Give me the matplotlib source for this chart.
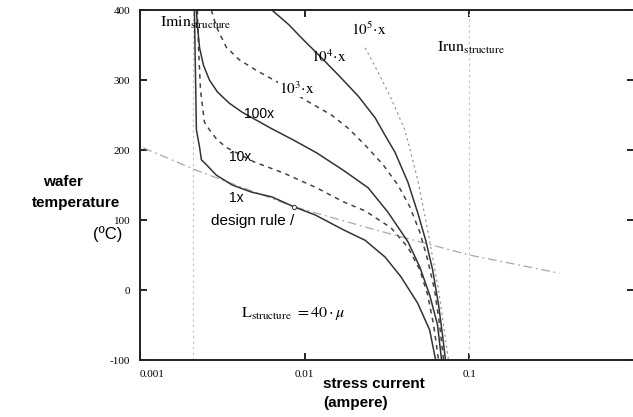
import numpy as np
import matplotlib
matplotlib.use('Agg')
import matplotlib.pyplot as plt

plt.rcParams['mathtext.fontset'] = 'stix'

# ---- data (x in ampere, y in deg C) ----
x_1 = [0.00214, 0.00217, 0.0022, 0.0023, 0.00236, 0.00253, 0.00291, 0.00363, 0.00473, 0.00632,
       0.00858, 0.01164, 0.01718, 0.0233, 0.0308, 0.0384, 0.0486, 0.0574, 0.0624]
y_1 = [400, 314, 229, 204, 186, 179, 164, 150, 140, 133, 119, 107, 86, 71, 47, 19, -19, -57, -100]

x_10 = [0.00223, 0.00227, 0.00233, 0.00246, 0.00264, 0.00295, 0.00339, 0.00493, 0.00747, 0.01181,
        0.01718, 0.02328, 0.03342, 0.04236, 0.0500, 0.05585, 0.0607, 0.0650]
y_10 = [400, 343, 286, 240, 229, 214, 203, 183, 167, 146, 126, 113, 89, 61, 29, -7, -50, -100]

x_100 = [0.0022, 0.00223, 0.0023, 0.00243, 0.00264, 0.00295, 0.00348, 0.00417, 0.00624, 0.00858,
         0.01181, 0.01718, 0.0243, 0.03207, 0.04236, 0.0500, 0.05741, 0.06412, 0.0678]
y_100 = [400, 379, 346, 321, 300, 283, 267, 254, 231, 214, 196, 171, 146, 111, 69, 33, -7, -50, -100]

x_1e3 = [0.00271, 0.00291, 0.00334, 0.0040, 0.00507, 0.00697, 0.01014, 0.01455, 0.01841, 0.02328,
         0.02992, 0.03684, 0.0435, 0.0500, 0.05585, 0.06152, 0.0660, 0.0697]
y_1e3 = [400, 376, 347, 329, 314, 296, 271, 250, 231, 207, 179, 150, 119, 83, 43, 0, -50, -100]

x_1e4 = [0.00632, 0.00801, 0.00986, 0.01214, 0.01603, 0.02115, 0.02679, 0.03077, 0.03532, 0.04236,
         0.04864, 0.05433, 0.05984, 0.0650, 0.06871, 0.07161]
y_1e4 = [400, 379, 357, 336, 307, 277, 246, 221, 197, 154, 110, 71, 29, -21, -64, -100]

x_1e5 = [0.02328, 0.02793, 0.03342, 0.04055, 0.04416, 0.04864, 0.05433, 0.05984, 0.0650, 0.0697, 0.0747]
y_1e5 = [346, 311, 274, 229, 196, 157, 100, 47, 0, -50, -100]

x_rule = [0.00105, 0.0022, 0.0086, 0.0268, 0.0536, 0.1, 0.353]
y_rule = [203, 171, 119, 86, 67, 50, 24]

x_imin = 0.0021
x_irun = 0.1
x_design = 0.0086
y_design = 119

xticks = [0.001, 0.01, 0.1, 1]
xticklabels = ['0.001', '0.01', '0.1', '']
yticks = [-100, 0, 100, 200, 300, 400]

# ---- figure ----
fig = plt.figure(figsize=(6.33, 4.17), dpi=100)
ax = fig.add_axes([140/633, 57/417, 494/633, 350/417])
ax.set_xscale('log')
ax.set_xlim(0.001, 1)
ax.set_ylim(-100, 400)

solid = dict(color='#333333', lw=1.1)
dash = dict(color='#444444', lw=1.1, ls=(0, (3, 3)))

ax.axvline(x_imin, color='#c0c0c0', lw=0.8, ls=(0, (2, 3)))
ax.axvline(x_irun, color='#c0c0c0', lw=0.8, ls=(0, (2, 3)))
ax.plot(x_rule, y_rule, color='#a8a8a8', lw=0.9, ls=(0, (7, 3, 1.5, 3)))

ax.plot(x_1, y_1, **solid)
ax.plot(x_10, y_10, **dash)
ax.plot(x_100, y_100, **solid)
ax.plot(x_1e3, y_1e3, **dash)
ax.plot(x_1e4, y_1e4, **solid)
ax.plot(x_1e5, y_1e5, color='#8a8a8a', lw=0.8, ls=(0, (2, 3)))
ax.plot(x_design, y_design, 'o', ms=3, mfc='white', mec='#444', mew=0.8)

# curve labels
sans = ['Liberation Sans', 'DejaVu Sans']
ax.text(0.00348, 131, '1x', fontsize=10, family=sans, va='center')
ax.text(0.00348, 190, '10x', fontsize=10, family=sans, va='center')
ax.text(0.00429, 251, '100x', fontsize=10, family=sans, va='center')
ax.text(0.00697, 288, r'$\mathrm{10^3\!\cdot\! x}$', fontsize=11, va='center',
        bbox=dict(fc='white', ec='none', pad=0.5))
ax.text(0.01087, 333, r'$\mathrm{10^4\!\cdot\! x}$', fontsize=11, va='center')
ax.text(0.0192, 372, r'$\mathrm{10^5\!\cdot\! x}$', fontsize=11, va='center')
ax.text(0.00271, 99, 'design rule /', fontsize=11, family=sans, va='center')
ax.text(0.00132, 381, r'$\mathrm{Imin}_{\mathrm{structure}}$', fontsize=11.5, va='center')
ax.text(0.0632, 346, r'$\mathrm{Irun}_{\mathrm{structure}}$', fontsize=11.5, va='center')
ax.text(0.00412, -33, r'$\mathrm{L_{structure}}\ = 40\cdot\mu$', fontsize=11.5, va='center')

# ticks
ax.set_xticks(xticks)
ax.set_xticklabels(xticklabels, family='Liberation Serif', fontsize=8)
ax.xaxis.set_minor_locator(matplotlib.ticker.NullLocator())
ax.set_yticks(yticks)
ax.set_yticklabels([str(v) for v in yticks], family='Liberation Serif', fontsize=8)
ax.tick_params(direction='in', length=5, width=1.2, top=True, right=True, pad=7)
ax.get_xticklabels()[0].set_horizontalalignment('left')
for s in ax.spines.values():
    s.set_linewidth(1.4)
    s.set_color('#222')

# axis titles
fig.text(63/633, 1-182/417, 'wafer', fontsize=11, weight='bold', family=sans, ha='center', va='center')
fig.text(76/633, 1-203/417, 'temperature', fontsize=11, weight='bold', family=sans, ha='center', va='center')
fig.text(108/633, 1-234/417, '(ºC)', fontsize=12, family=sans, ha='center', va='center')
fig.text(323/633, 1-384/417, 'stress current', fontsize=11, weight='bold', family=sans, ha='left', va='center')
fig.text(323/633, 1-403/417, '(ampere)', fontsize=11, weight='bold', family=sans, ha='left', va='center')

fig.savefig('out.png', dpi=100)
